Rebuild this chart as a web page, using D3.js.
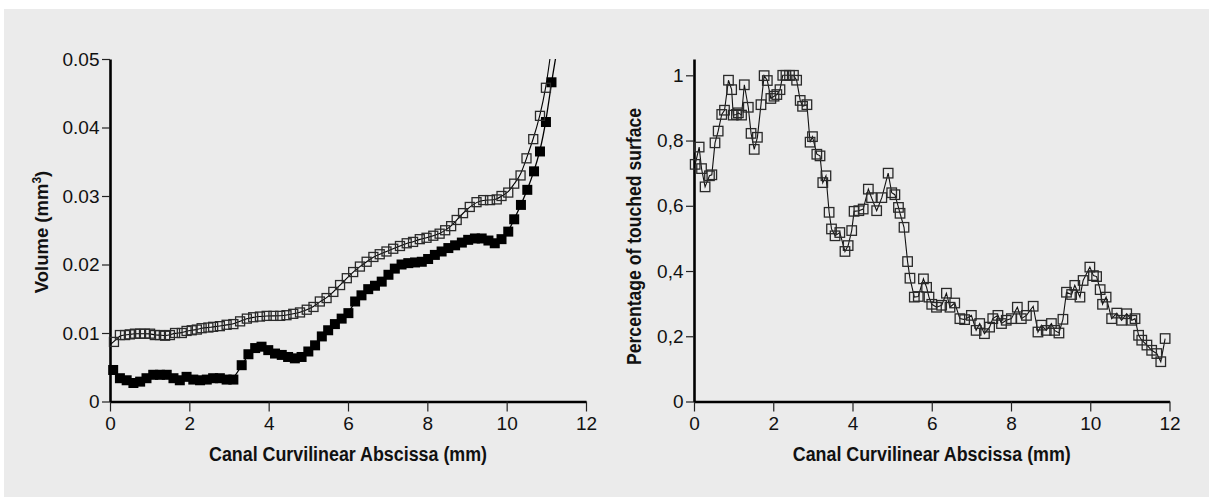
<!DOCTYPE html>
<html><head><meta charset="utf-8">
<script src="https://cdn.jsdelivr.net/npm/d3@7"></script>
<style>
html,body{margin:0;padding:0;background:#fff;}
svg{display:block;}
text{font-family:"Liberation Sans",Arial,sans-serif;fill:#111;}
</style></head>
<body>
<svg id="chart" width="1209" height="497"></svg>
<script>
// ---------- DATA ----------
const xTicks = [0, 2, 4, 6, 8, 10, 12];
const leftYTicks = [0, 0.01, 0.02, 0.03, 0.04, 0.05];
const leftYLabels = ["0", "0.01", "0.02", "0.03", "0.04", "0.05"];
const rightYTicks = [0, 0.2, 0.4, 0.6, 0.8, 1];
const rightYLabels = ["0", "0,2", "0,4", "0,6", "0,8", "1"];

const xTitle = "Canal Curvilinear Abscissa (mm)";
const leftYTitle = "Volume (mm";
const rightYTitle = "Percentage of touched surface";

// Left chart: open squares
const openX = [0.10,0.25,0.38,0.50,0.63,0.76,0.88,1.01,1.13,1.26,1.39,1.51,1.64,1.81,1.93,2.06,2.19,2.31,2.48,2.60,2.77,2.94,3.11,3.28,3.45,3.61,3.78,3.95,4.12,4.29,4.45,4.62,4.79,4.96,5.13,5.29,5.46,5.63,5.80,5.97,6.13,6.30,6.47,6.64,6.80,6.97,7.14,7.31,7.48,7.64,7.81,7.98,8.15,8.31,8.45,8.60,8.74,8.90,9.07,9.24,9.41,9.58,9.75,9.87,10.04,10.19,10.35,10.50,10.67,10.84,10.99];
const openY = [0.0087,0.0097,0.0097,0.0098,0.0099,0.0099,0.0099,0.0099,0.0097,0.0097,0.0096,0.0097,0.0100,0.0100,0.0103,0.0104,0.0105,0.0107,0.0108,0.0109,0.0110,0.0112,0.0113,0.0117,0.0121,0.0123,0.0124,0.0125,0.0125,0.0125,0.0126,0.0128,0.0130,0.0134,0.0138,0.0146,0.0151,0.0160,0.0170,0.0180,0.0189,0.0197,0.0204,0.0211,0.0215,0.0219,0.0223,0.0227,0.0231,0.0233,0.0237,0.0239,0.0242,0.0245,0.0250,0.0256,0.0265,0.0275,0.0284,0.0291,0.0294,0.0294,0.0295,0.0300,0.0305,0.0318,0.0330,0.0355,0.0383,0.0417,0.0458];
const openLineStart = [0, 0.0083];
const openLineEnd = [11.09, 0.05];

// Left chart: filled squares
const filledX = [0.08,0.25,0.42,0.59,0.76,0.92,1.09,1.26,1.43,1.60,1.76,1.93,2.10,2.27,2.44,2.60,2.77,2.94,3.11,3.32,3.49,3.66,3.82,3.99,4.16,4.33,4.49,4.66,4.83,5.00,5.17,5.34,5.50,5.67,5.84,6.01,6.18,6.34,6.51,6.68,6.85,7.02,7.18,7.35,7.52,7.69,7.86,8.02,8.19,8.36,8.53,8.70,8.87,9.03,9.20,9.37,9.54,9.70,9.87,10.04,10.19,10.36,10.52,10.69,10.84,10.99,11.13];
const filledY = [0.0046,0.0034,0.0031,0.0027,0.0029,0.0034,0.0039,0.0039,0.0039,0.0034,0.0031,0.0036,0.0032,0.0031,0.0032,0.0034,0.0034,0.0032,0.0032,0.0053,0.0069,0.0078,0.0080,0.0075,0.0070,0.0068,0.0065,0.0063,0.0065,0.0073,0.0082,0.0095,0.0104,0.0113,0.0121,0.0129,0.0146,0.0155,0.0164,0.0169,0.0175,0.0185,0.0194,0.0200,0.0202,0.0203,0.0204,0.0208,0.0214,0.0219,0.0224,0.0228,0.0232,0.0236,0.0238,0.0238,0.0235,0.0231,0.0237,0.0248,0.0266,0.0287,0.0309,0.0336,0.0365,0.0408,0.0466];
const filledLineEnd = [11.23, 0.05];

// Right chart: percentage of touched surface
const touchX = [0.03,0.13,0.19,0.28,0.39,0.45,0.53,0.61,0.70,0.77,0.87,0.95,0.99,1.07,1.12,1.20,1.27,1.37,1.44,1.52,1.60,1.69,1.77,1.85,1.94,2.02,2.09,2.17,2.24,2.32,2.41,2.51,2.59,2.68,2.74,2.85,2.93,2.99,3.10,3.18,3.25,3.33,3.41,3.47,3.56,3.68,3.81,3.89,3.98,4.04,4.16,4.27,4.40,4.48,4.61,4.74,4.90,4.99,5.07,5.16,5.20,5.30,5.39,5.45,5.56,5.66,5.79,5.87,5.93,6.00,6.12,6.25,6.37,6.46,6.58,6.71,6.83,7.00,7.12,7.21,7.33,7.46,7.54,7.67,7.76,7.88,8.01,8.16,8.26,8.39,8.56,8.68,8.77,8.89,9.02,9.10,9.21,9.31,9.40,9.53,9.61,9.74,9.82,9.99,10.08,10.16,10.25,10.31,10.40,10.54,10.67,10.79,10.92,11.05,11.13,11.22,11.30,11.43,11.55,11.68,11.78,11.89];
const touchY = [0.727,0.780,0.714,0.658,0.692,0.695,0.793,0.829,0.880,0.893,0.985,0.956,0.878,0.880,0.885,0.878,0.971,0.902,0.822,0.773,0.810,0.910,0.999,0.984,0.929,0.936,0.941,0.956,1.000,1.000,1.000,1.000,0.985,0.923,0.905,0.910,0.795,0.812,0.758,0.753,0.671,0.692,0.580,0.529,0.508,0.518,0.460,0.478,0.524,0.583,0.585,0.590,0.651,0.625,0.585,0.625,0.700,0.640,0.634,0.595,0.577,0.534,0.429,0.378,0.320,0.322,0.376,0.350,0.320,0.298,0.289,0.295,0.332,0.289,0.302,0.254,0.251,0.264,0.218,0.239,0.208,0.228,0.254,0.264,0.239,0.249,0.254,0.289,0.254,0.264,0.292,0.213,0.234,0.218,0.239,0.218,0.210,0.252,0.335,0.328,0.356,0.320,0.371,0.412,0.386,0.383,0.343,0.298,0.320,0.254,0.271,0.249,0.269,0.249,0.254,0.203,0.188,0.173,0.157,0.147,0.122,0.193];

// ---------- DRAW ----------
const svg = d3.select("#chart");
svg.append("rect").attr("x", 4).attr("y", 9).attr("width", 1205).attr("height", 488).attr("fill", "#ebebeb");

const yBottom = 401.5, yTop = 59;
const xL = d3.scaleLinear().domain([0, 12]).range([110, 586]);
const yL = d3.scaleLinear().domain([0, 0.05]).range([yBottom, yTop]);
const xR = d3.scaleLinear().domain([0, 12]).range([694, 1169.5]);
const yR = d3.scaleLinear().domain([0, 1.05]).range([yBottom, yTop]);

function styleAxis(g) {
  g.select(".domain").attr("stroke", "#000").attr("stroke-width", 2.6);
  g.selectAll(".tick line").attr("stroke", "#222").attr("stroke-width", 1.2);
  g.selectAll(".tick text").attr("fill", "#111").style("font-size", "19px")
    .style("font-family", '"Liberation Sans",Arial,sans-serif');
}

function drawAxes(x, y, yTicks, yLabels) {
  const gx = svg.append("g").attr("transform", `translate(0,${yBottom})`)
    .call(d3.axisBottom(x).tickValues(xTicks).tickFormat(d3.format("d")).tickSize(10).tickSizeOuter(0).tickPadding(5));
  styleAxis(gx);
  gx.selectAll(".tick text").attr("dy", "0.71em");
  const gy = svg.append("g").attr("transform", `translate(${x(0)},0)`)
    .call(d3.axisLeft(y).tickValues(yTicks).tickFormat((d, i) => yLabels[i]).tickSize(8).tickSizeOuter(0).tickPadding(2.5));
  styleAxis(gy);
}

drawAxes(xL, yL, leftYTicks, leftYLabels);
drawAxes(xR, yR, rightYTicks, rightYLabels);

// Left chart lines
const openPts = [openLineStart].concat(openX.map((d, i) => [d, openY[i]])).concat([openLineEnd]);
const filledPts = filledX.map((d, i) => [d, filledY[i]]).concat([filledLineEnd]);
const lineL = d3.line().x(d => xL(d[0])).y(d => yL(d[1])).curve(d3.curveBasis);
svg.append("path").attr("d", lineL(filledPts)).attr("fill", "none").attr("stroke", "#000").attr("stroke-width", 1.3);
svg.append("path").attr("d", lineL(openPts)).attr("fill", "none").attr("stroke", "#000").attr("stroke-width", 1.1);

// Filled squares
const fs = 10;
svg.append("g").selectAll("rect").data(filledX).join("rect")
  .attr("x", (d) => xL(d) - fs / 2).attr("y", (d, i) => yL(filledY[i]) - fs / 2)
  .attr("width", fs).attr("height", fs).attr("fill", "#000");

// Open squares
const os = 9;
svg.append("g").selectAll("rect").data(openX).join("rect")
  .attr("x", (d) => xL(d) - os / 2).attr("y", (d, i) => yL(openY[i]) - os / 2)
  .attr("width", os).attr("height", os).attr("fill", "none").attr("stroke", "#2a2a2a").attr("stroke-width", 1.3);

// Right chart
const lineR = d3.line().x((d, i) => xR(d)).y((d, i) => yR(touchY[i]));
svg.append("path").attr("d", lineR(touchX)).attr("fill", "none").attr("stroke", "#111").attr("stroke-width", 1.1);
const rs = 9.5;
svg.append("g").selectAll("rect").data(touchX).join("rect")
  .attr("x", (d) => xR(d) - rs / 2).attr("y", (d, i) => yR(touchY[i]) - rs / 2)
  .attr("width", rs).attr("height", rs).attr("fill", "none").attr("stroke", "#2a2a2a").attr("stroke-width", 1.3);

// Titles
function xTitleAt(cx) {
  svg.append("text").attr("x", cx).attr("y", 461).attr("text-anchor", "middle")
    .style("font-size", "20px").style("font-weight", "bold")
    .attr("textLength", 278).attr("lengthAdjust", "spacingAndGlyphs").text(xTitle);
}
xTitleAt((xL(0) + xL(12)) / 2);
xTitleAt((xR(0) + xR(12)) / 2);

const ly = svg.append("text").attr("transform", "translate(48,232) rotate(-90)").attr("text-anchor", "middle")
  .style("font-size", "18.5px").style("font-weight", "bold");
ly.append("tspan").text(leftYTitle);
ly.append("tspan").attr("dy", -7).style("font-size", "12px").text("3");
ly.append("tspan").attr("dy", 7).text(")");

svg.append("text").attr("transform", "translate(641,236.5) rotate(-90)").attr("text-anchor", "middle")
  .style("font-size", "19.5px").style("font-weight", "bold")
  .attr("textLength", 257).attr("lengthAdjust", "spacingAndGlyphs").text(rightYTitle);
</script>
</body></html>
